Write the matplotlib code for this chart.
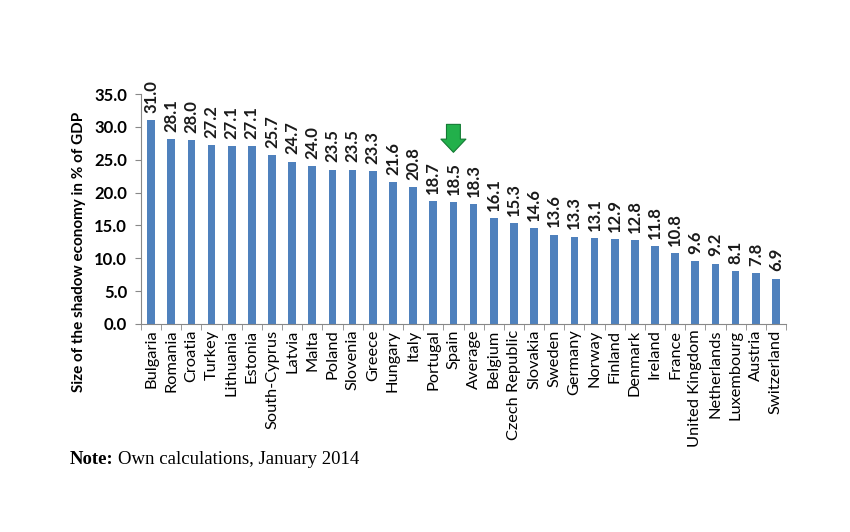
import matplotlib
matplotlib.use("Agg")
import matplotlib.pyplot as plt
from matplotlib.ticker import FixedLocator, NullFormatter
import numpy as np

countries = ["Bulgaria", "Romania", "Croatia", "Turkey", "Lithuania", "Estonia",
             "South-Cyprus", "Latvia", "Malta", "Poland", "Slovenia", "Greece",
             "Hungary", "Italy", "Portugal", "Spain", "Average", "Belgium",
             "Czech Republic", "Slovakia", "Sweden", "Germany", "Norway", "Finland",
             "Denmark", "Ireland", "France", "United Kingdom", "Netherlands",
             "Luxembourg", "Austria", "Switzerland"]
values = [31.0, 28.1, 28.0, 27.2, 27.1, 27.1, 25.7, 24.7, 24.0, 23.5, 23.5, 23.3,
          21.6, 20.8, 18.7, 18.5, 18.3, 16.1, 15.3, 14.6, 13.6, 13.3, 13.1, 12.9,
          12.8, 11.8, 10.8, 9.6, 9.2, 8.1, 7.8, 6.9]
yticks = [0, 5, 10, 15, 20, 25, 30, 35]
highlight = "Spain"

plt.rcParams['font.family'] = ['Lato', 'DejaVu Sans']

fig = plt.figure(figsize=(8.5, 5.32), dpi=100)
ax = fig.add_axes([141/850, 1-324/532, (786-141)/850, (324-94)/532])

x = np.arange(len(countries))
ax.bar(x, values, width=0.38, color='#4F81BD', zorder=2)
for xi, v in zip(x, values):
    ax.text(xi, v + 1.1, f"{v:.1f}", rotation=90, ha='center', va='bottom',
            fontsize=12, fontweight='bold', color='#1a1a1a')

ax.set_xlim(-0.5, len(countries) - 0.5)
ax.set_ylim(0, 35)
ax.set_yticks(yticks)
ax.set_yticklabels([f"{t:.1f}" for t in yticks], fontsize=12, fontweight='bold')
ax.set_xticks(x)
ax.set_xticklabels(countries, rotation=90, fontsize=11.8)
ax.tick_params(axis='x', length=0, pad=4)
ax.xaxis.set_minor_locator(FixedLocator(np.arange(-0.5, len(countries), 1)))
ax.xaxis.set_minor_formatter(NullFormatter())
ax.tick_params(axis='x', which='minor', length=4, color='#888888')
ax.tick_params(axis='y', length=4, color='#888888', pad=6)

for s in ['top', 'right']:
    ax.spines[s].set_visible(False)
for s in ['left', 'bottom']:
    ax.spines[s].set_color('#888888')

fig.text(79/850, 1-252/532, "Size of the shadow economy in % of GDP", fontsize=11,
         fontweight='bold', rotation=90, ha='center', va='center')

# Green arrow above highlighted country
hi = countries.index(highlight)
ax.annotate("", xy=(hi, 25.7), xytext=(hi, 30.8),
            arrowprops=dict(arrowstyle="simple,head_width=1.8,head_length=0.95,tail_width=1.0",
                            mutation_scale=10,
                            facecolor='#22b04b', edgecolor='#137a33', lw=0.8),
            annotation_clip=False)

fig.text(70/850, 1-460/532, "Note:", fontsize=13.5, fontweight='bold',
         family=['Liberation Serif'], va='center', ha='left')
fig.text(118/850, 1-460/532, "Own calculations, January 2014", fontsize=13.5,
         family=['Liberation Serif'], va='center', ha='left')

fig.savefig("out.png", dpi=100)
